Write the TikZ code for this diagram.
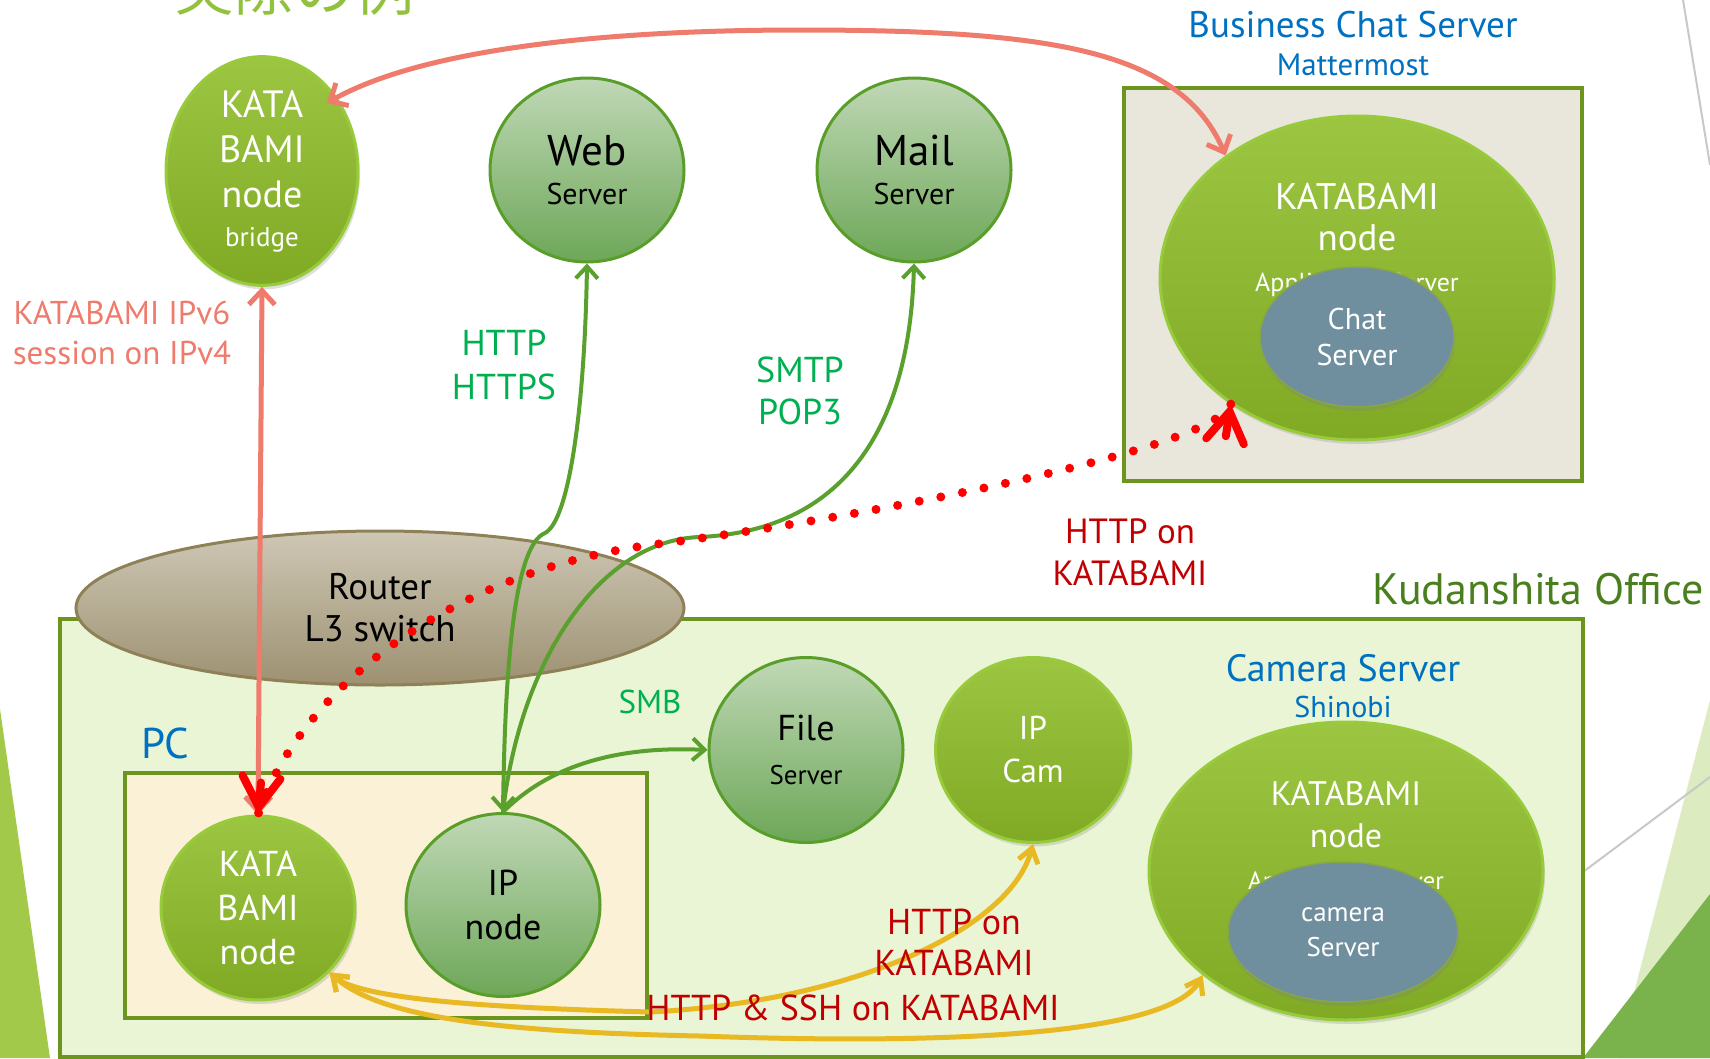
\documentclass[tikz,border=0pt]{standalone}
\usepackage{fontspec}
\setmainfont{PT Sans}
\newfontfamily\jpfont{Noto Sans CJK JP}
\usetikzlibrary{shapes.geometric,arrows.meta,shadows}

\definecolor{katatop}{HTML}{9CC542}
\definecolor{katabot}{HTML}{80AA24}
\definecolor{kataedge}{HTML}{98CB3B}
\definecolor{srvtop}{HTML}{C0D8B6}
\definecolor{srvbot}{HTML}{6DA758}
\definecolor{srvedge}{HTML}{5A9E2A}
\definecolor{steel}{HTML}{6F8F9F}
\definecolor{steeledge}{HTML}{86A743}
\definecolor{routertop}{HTML}{CEC7B5}
\definecolor{routerbot}{HTML}{9D9171}
\definecolor{routeredge}{HTML}{8E8158}
\definecolor{boxedge}{HTML}{6B951F}
\definecolor{officefill}{HTML}{EAF5D5}
\definecolor{chatfill}{HTML}{E9E7DC}
\definecolor{pcfill}{HTML}{FAF1D6}
\definecolor{ttlblue}{HTML}{0070C0}
\definecolor{lblgreen}{HTML}{00B050}
\definecolor{lblred}{HTML}{C00000}
\definecolor{salmon}{HTML}{EE7B6B}
\definecolor{dotred}{HTML}{FF0000}
\definecolor{amber}{HTML}{E8B923}
\definecolor{lineg}{HTML}{5AA02C}
\definecolor{officegreen}{HTML}{4A7F1E}
\definecolor{titlegreen}{HTML}{92C13E}
\definecolor{decoleft}{HTML}{A3C94A}
\definecolor{decolight}{HTML}{DDEBC0}
\definecolor{decodark}{HTML}{7AB24C}
\definecolor{decoline}{HTML}{C8C8C8}

\newcommand{\fsz}[2]{\fontsize{#1}{#2}\selectfont}

\tikzset{
  kata/.style={ellipse, draw=kataedge, line width=3pt, top color=katatop, bottom color=katabot,
    text=white, align=center, inner sep=0pt, font=\fsz{38}{45},
    drop shadow={opacity=0.25, shadow xshift=2pt, shadow yshift=-4pt}},
  srv/.style={ellipse, draw=srvedge, line width=3pt, top color=srvtop, bottom color=srvbot,
    text=black, align=center, inner sep=0pt, font=\fsz{36}{44}},
  innersrv/.style={ellipse, draw=steeledge, line width=1.5pt, fill=steel, text=white,
    align=center, inner sep=0pt, font=\fsz{30}{36},
    drop shadow={opacity=0.3, shadow xshift=1pt, shadow yshift=-4pt}},
  router/.style={ellipse, draw=routeredge, line width=3pt, top color=routertop,
    bottom color=routerbot, align=center, inner sep=0pt, font=\fsz{37}{42}},
  box/.style={draw=boxedge, line width=4pt},
  lbl/.style={align=center, inner sep=0pt},
  salmonline/.style={draw=salmon, line width=5pt, >={Straight Barb[length=14pt,width=26pt]}},
  grnline/.style={draw=lineg, line width=4pt, >={Straight Barb[length=12pt,width=22pt]}},
  ambline/.style={draw=amber, line width=5pt, >={Straight Barb[length=14pt,width=20pt]}},
  dotline/.style={draw=dotred, line width=9pt, line cap=round, dash pattern=on 0pt off 22pt},
  redhead/.style={draw=dotred, line width=8pt, line cap=round,
    >={Straight Barb[length=30pt,width=38pt,line cap=round]}}
}

\begin{document}
\begin{tikzpicture}[x=1pt,y=-1pt]
\useasboundingbox (0,0) rectangle (1710,1058);
\clip (0,0) rectangle (1710,1058);

% slide background
\fill[decoleft] (0,709) -- (50,1058) -- (0,1058) -- cycle;
\fill[decolight] (1710,700) -- (1617,1058) -- (1710,1058) -- cycle;
\fill[decodark] (1710,894) -- (1583,1058) -- (1710,1058) -- cycle;
\draw[decoline, line width=2pt] (1683,0) -- (1710,165);
\draw[decoline, line width=2pt] (1583,872) -- (1710,777);
\draw (294,10) node[anchor=base, text=titlegreen, font={\jpfont\fsz{60}{70}}](title) {実際の例};

% boxes
\draw[box, fill=officefill] (60,619) rectangle (1583,1057);
\draw[box, fill=chatfill] (1124,88) rectangle (1582,481);
\draw[box, fill=pcfill] (125,773) rectangle (647,1018);
\draw (380,608) node[router, minimum width=608pt, minimum height=154pt](router) {Router\\L3 switch};

% top row
\draw (262,171) node[kata, minimum width=192pt, minimum height=184pt](bridge) {KATA\\BAMI\\node\\[-6pt]{\fsz{27}{30}bridge}};
\draw (587,170) node[srv, minimum width=194pt, minimum height=184pt, font=\fsz{36}{39}](web) {{\fsz{43}{48}Web}\\{\fsz{30}{34}Server}};
\draw (914,170) node[srv, minimum width=194pt, minimum height=184pt, font=\fsz{36}{39}](mail) {{\fsz{43}{48}Mail}\\{\fsz{30}{34}Server}};
\draw (1357,278) node[kata, minimum width=394pt, minimum height=324pt](chatnode) {};
\draw (1357,240) node[lbl, text=white, font=\fsz{37}{41}](chattxt) {KATABAMI\\node\\{\fsz{26}{30}Application Server}};
\draw (1357,337) node[innersrv, minimum width=194pt, minimum height=140pt](chatsrv) {Chat\\Server};

% office
\draw (258,908) node[kata, minimum width=194pt, minimum height=184pt, font=\fsz{36}{44}](pckata) {KATA\\BAMI\\node};
\draw (503,905) node[srv, minimum width=194pt, minimum height=183pt](ipnode) {IP\\node};
\draw (806,750) node[srv, minimum width=194pt, minimum height=185pt](file) {{\fsz{36}{42}File}\\{\fsz{27}{32}Server}};
\draw (1033,750) node[kata, minimum width=195pt, minimum height=185pt, font=\fsz{33}{43}](ipcam) {IP\\Cam};
\draw (1346,871) node[kata, minimum width=394pt, minimum height=298pt](camnode) {};
\draw (1346,838) node[lbl, text=white, font=\fsz{34}{42}](camtxt) {KATABAMI\\node\\{\fsz{25}{30}Application Server}};
\draw (1343,932) node[innersrv, minimum width=230pt, minimum height=140pt, font=\fsz{27}{35}](camsrv) {camera\\Server};

% titles
\draw (1353,25) node[lbl, text=ttlblue, font=\fsz{37}{40}](ttlchat) {Business Chat Server};
\draw (1353,65) node[lbl, text=ttlblue, font=\fsz{31}{34}](ttlmm) {Mattermost};
\draw (1343,668) node[lbl, text=ttlblue, font=\fsz{38}{42}](ttlcam) {Camera Server};
\draw (1343,707) node[lbl, text=ttlblue, font=\fsz{30}{33}](ttlshinobi) {Shinobi};
\draw (165,743) node[lbl, text=ttlblue, font=\fsz{43}{46}](ttlpc) {PC};
\draw (1538,589) node[lbl, text=officegreen, font=\fsz{44}{48}](ttloffice) {Kudanshita Office};

% connectors
\draw[salmonline, <->] (bridge.south) -- (pckata.north);
\draw[salmonline, <->] (bridge) ++(65,-68) coordinate (brtop)
  (brtop) .. controls (420,50) and (600,30) .. (800,30) .. controls (1050,30) and (1180,50) .. (chatnode.137);
\draw[grnline, <->] (ipnode.north) .. controls (505,660) and (515,545) .. (545,533)
  .. controls (570,520) and (585,400) .. (web.south);
\draw[grnline, ->] (ipnode.north) .. controls (520,660) and (600,540) .. (700,537)
  .. controls (850,530) and (910,420) .. (mail.south);
\draw[grnline, ->] (ipnode.north) .. controls (540,775) and (600,745) .. (file.west);
\draw[dotline] (chatnode.225) .. controls (1215,450) and (850,520) .. (650,545)
  .. controls (450,572) and (300,690) .. (pckata.north);
\draw[redhead, ->] (chatnode.225) ++(-5,32) coordinate (chattail) (chattail) -- (chatnode.225);
\draw[redhead, ->] (pckata.north) ++(3,-32) coordinate (pctail) (pctail) -- (pckata.north);
\draw[ambline, <->] (pckata.-42) .. controls (360,1000) and (500,1008) .. (650,1012)
  .. controls (850,1002) and (1010,930) .. (ipcam.south);
\draw[ambline, <->] (pckata.-42) .. controls (380,1018) and (500,1032) .. (700,1036)
  .. controls (950,1045) and (1170,1035) .. (camnode.216);

% labels
\draw (122,333) node[lbl, text=salmon, font=\fsz{33}{40}](lblipv6) {KATABAMI IPv6\\session on IPv4};
\draw (504,365) node[lbl, text=lblgreen, font=\fsz{36}{44}](lblweb) {HTTP\\HTTPS};
\draw (800,391) node[lbl, text=lblgreen, font=\fsz{36}{42}](lblmail) {SMTP\\POP3};
\draw (650,702) node[lbl, text=lblgreen, font=\fsz{33}{38}](lblsmb) {SMB};
\draw (1130,552) node[lbl, text=lblred, font=\fsz{35}{42}](lblchat) {HTTP on\\KATABAMI};
\draw (954,942) node[lbl, text=lblred, font=\fsz{36}{41}](lblcam) {HTTP on\\KATABAMI};
\draw (853,1008) node[lbl, text=lblred, font=\fsz{36}{40}](lblssh) {HTTP \& SSH on KATABAMI};
\end{tikzpicture}
\end{document}
